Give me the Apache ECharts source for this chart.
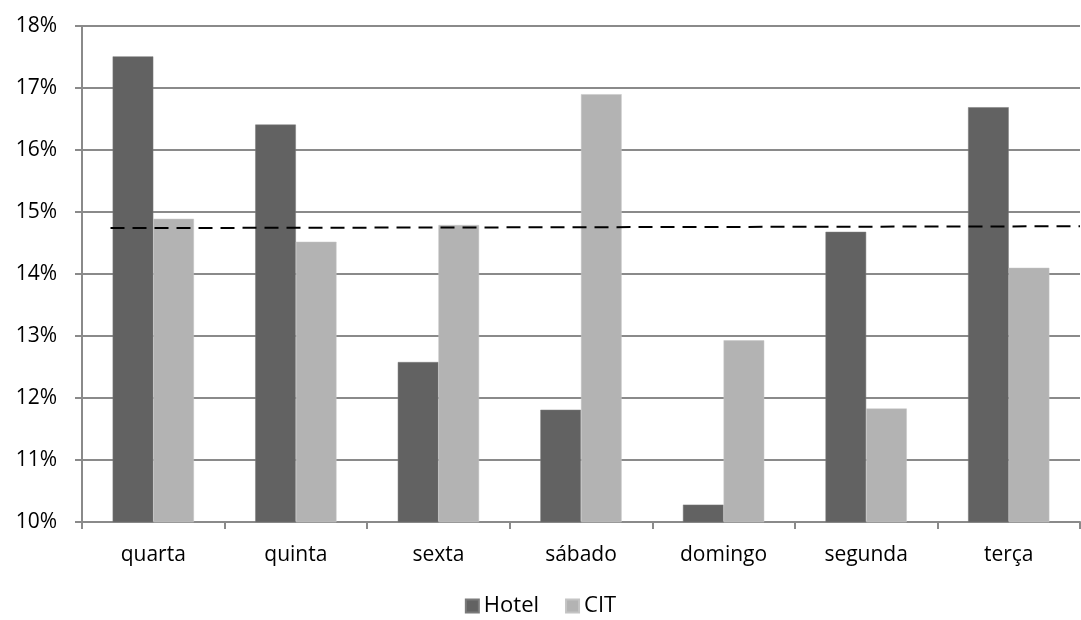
<!DOCTYPE html>
<html>
<head>
<meta charset="utf-8">
<script src="https://cdn.jsdelivr.net/npm/echarts@6/dist/echarts.min.js"></script>
<style>
  html, body { margin: 0; padding: 0; background: #fff; }
  #chart { width: 1081px; height: 620px; }
</style>
</head>
<body>
<div id="chart"></div>
<script>
// Weekday share (%) for hotel and CIT
const days = ['quarta', 'quinta', 'sexta', 'sábado', 'domingo', 'segunda', 'terça'];
const hotel = [17.51, 16.41, 12.58, 11.81, 10.28, 14.68, 16.69];
const cit = [14.89, 14.52, 14.79, 16.90, 12.93, 11.83, 14.10];
// Reference dashed line (position along the category span, value in %)
const refX = [0.2, 7];
const refY = [14.74, 14.77];

const font = '"Open Sans", Lato, sans-serif';
const chart = echarts.init(document.getElementById('chart'));
chart.setOption({
  animation: false,
  backgroundColor: '#ffffff',
  textStyle: { fontFamily: font },
  grid: { left: 82, right: 1, top: 26, bottom: 98, containLabel: false },
  legend: {
    bottom: -2,
    left: 'center',
    itemWidth: 13,
    itemHeight: 13,
    itemGap: 26,
    icon: 'rect',
    textStyle: { fontFamily: font, fontSize: 22, color: '#000' },
    data: ['Hotel', 'CIT']
  },
  xAxis: [
    {
      type: 'category',
      data: days,
      axisLine: { lineStyle: { color: '#8a8a8a', width: 2 } },
      axisTick: { show: true, length: 7, lineStyle: { color: '#8a8a8a', width: 2 } },
      axisLabel: { fontFamily: font, fontSize: 21, color: '#000', margin: 23 }
    },
    {
      type: 'value',
      min: 0,
      max: 7,
      show: false
    }
  ],
  yAxis: {
    type: 'value',
    min: 10,
    max: 18,
    interval: 1,
    axisLine: { show: true, lineStyle: { color: '#8a8a8a', width: 2 } },
    axisTick: { show: true, length: 7, lineStyle: { color: '#8a8a8a', width: 2 } },
    splitLine: { lineStyle: { color: '#8a8a8a', width: 2 } },
    axisLabel: { formatter: '{value}%', fontFamily: font, fontSize: 21, color: '#000', margin: 25 }
  },
  series: [
    {
      name: 'Hotel',
      type: 'bar',
      data: hotel,
      barGap: '0%',
      barCategoryGap: '43%',
      itemStyle: { color: '#626262', borderColor: '#7a7a7a', borderWidth: 0.5 }
    },
    {
      name: 'CIT',
      type: 'bar',
      data: cit,
      itemStyle: { color: '#b3b3b3', borderColor: '#c4c4c4', borderWidth: 0.5 }
    },
    {
      name: 'ref',
      type: 'line',
      xAxisIndex: 1,
      data: refX.map((x, i) => [x, refY[i]]),
      symbol: 'none',
      silent: true,
      z: 5,
      lineStyle: { color: '#000', width: 2, type: [14, 8] }
    }
  ]
});
</script>
</body>
</html>
